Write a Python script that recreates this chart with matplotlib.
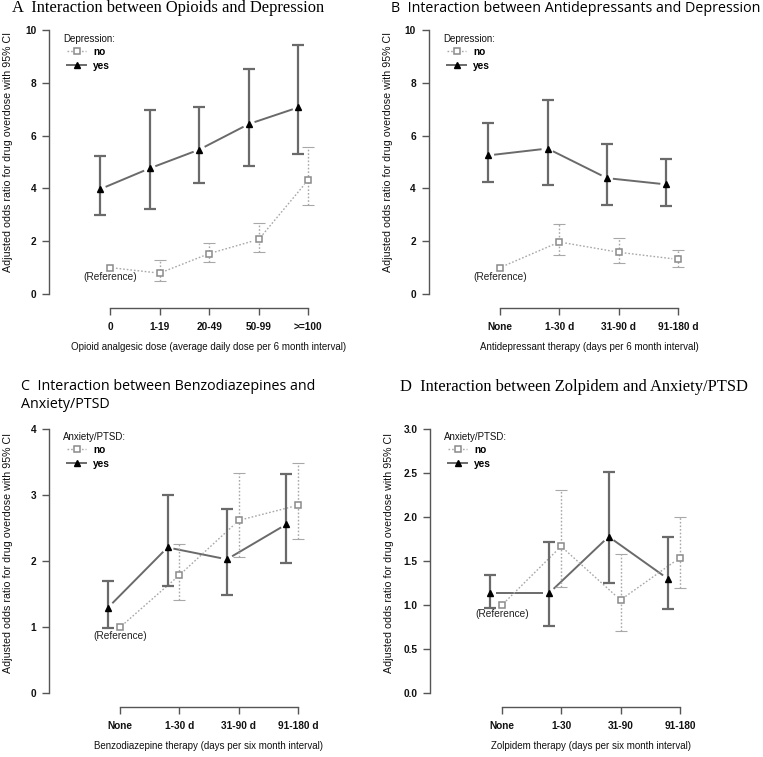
import numpy as np
import matplotlib
matplotlib.use("Agg")
import matplotlib.pyplot as plt
from matplotlib.lines import Line2D

W, H = 763, 757

# ---- data ----
A_cats = ['0', '1-19', '20-49', '50-99', '>=100']
A_yes = [3.97, 4.76, 5.47, 6.44, 7.07]
A_yes_lo = [2.99, 3.23, 4.22, 4.84, 5.30]
A_yes_hi = [5.23, 6.96, 7.09, 8.54, 9.42]
A_no = [1.0, 0.79, 1.53, 2.07, 4.33]
A_no_lo = [1.0, 0.50, 1.21, 1.59, 3.36]
A_no_hi = [1.0, 1.27, 1.92, 2.69, 5.56]

B_cats = ['None', '1-30 d', '31-90 d', '91-180 d']
B_yes = [5.25, 5.51, 4.39, 4.15]
B_yes_lo = [4.25, 4.13, 3.37, 3.35]
B_yes_hi = [6.47, 7.33, 5.69, 5.12]
B_no = [1.0, 1.97, 1.58, 1.31]
B_no_lo = [1.0, 1.47, 1.16, 1.02]
B_no_hi = [1.0, 2.65, 2.14, 1.67]

C_cats = ['None', '1-30 d', '31-90 d', '91-180 d']
C_yes = [1.30, 2.21, 2.03, 2.56]
C_yes_lo = [0.99, 1.62, 1.49, 1.97]
C_yes_hi = [1.70, 3.00, 2.79, 3.32]
C_no = [1.0, 1.79, 2.62, 2.85]
C_no_lo = [1.0, 1.41, 2.06, 2.34]
C_no_hi = [1.0, 2.26, 3.34, 3.49]

D_cats = ['None', '1-30', '31-90', '91-180']
D_yes = [1.14, 1.14, 1.78, 1.30]
D_yes_lo = [0.97, 0.76, 1.25, 0.96]
D_yes_hi = [1.35, 1.72, 2.52, 1.78]
D_no = [1.0, 1.67, 1.06, 1.54]
D_no_lo = [1.0, 1.21, 0.71, 1.20]
D_no_hi = [1.0, 2.31, 1.58, 2.00]

YES_COL = '#6a6a6a'
NO_COL = '#a8a8a8'
AX_COL = '#555555'
SANS = 'Liberation Sans'
SERIF = 'Liberation Serif'
DOT = (0, (1.2, 1.4))

fig = plt.figure(figsize=(W / 100, H / 100), dpi=100)


def fx(px):
    return px / W


def fy(py):
    return 1 - py / H


def gapped(ax, x, y, gap, **kw):
    # R type="b": line segments stop short of the points
    pts = ax.transData.transform(np.column_stack([x, y]))
    inv = ax.transData.inverted()
    for p, q in zip(pts[:-1], pts[1:]):
        d = q - p
        L = np.hypot(*d)
        if L <= 2 * gap:
            continue
        u = d / L
        seg = inv.transform([p + u * gap, q - u * gap])
        ax.plot(seg[:, 0], seg[:, 1], **kw)


def panel(box, cats, yes, ylo, yhi, no, nlo, nhi, yticks, yfmt,
          xlabel, legtitle, legpos, xlabpos, ylabpos):
    left, right, top, bottom, x0, dx = box
    ax = fig.add_axes([fx(left), fy(bottom), fx(right - left), (bottom - top) / H])
    n = len(cats)
    ax.set_xlim((left - x0) / dx, (right - x0) / dx)
    ax.set_ylim(yticks[0], yticks[-1])
    xs = np.arange(n)
    xy = xs - 0.2

    # connecting lines
    gapped(ax, xy, yes, 6, color=YES_COL, lw=1.4, solid_capstyle='butt')
    gapped(ax, xs, no, 6, color=NO_COL, lw=1.0, linestyle=DOT)

    # error bars
    yerr = [np.array(yes) - np.array(ylo), np.array(yhi) - np.array(yes)]
    ax.errorbar(xy, yes, yerr=yerr, fmt='none', ecolor=YES_COL, elinewidth=1.6,
                capsize=4, capthick=1.6, clip_on=False)
    ne = ax.errorbar(xs[1:], no[1:], yerr=[np.array(no[1:]) - np.array(nlo[1:]),
                                           np.array(nhi[1:]) - np.array(no[1:])],
                     fmt='none', ecolor=NO_COL, elinewidth=1.0, capsize=4,
                     capthick=1.0, clip_on=False)
    for c in ne.lines[2]:
        c.set_linestyle(DOT)
    for c in ne.lines[1]:
        c.set_markeredgewidth(0.8)

    ax.plot(xy, yes, linestyle='none', marker='^', color='black', ms=4.6, clip_on=False)
    ax.plot(xs, no, linestyle='none', marker='s', mfc='white', mec='#8a8a8a',
            mew=1.1, ms=5, clip_on=False)

    ax.annotate('(Reference)', xy=(0, no[0]), xytext=(0, -6.5), textcoords='offset points',
                ha='center', va='center', fontsize=7.3, family=SANS, color='#222222')

    # R-like axes
    for s in ['top', 'right']:
        ax.spines[s].set_visible(False)
    ax.spines['left'].set_bounds(yticks[0], yticks[-1])
    ax.spines['bottom'].set_position(('outward', 10))
    ax.spines['bottom'].set_bounds(0, n - 1)
    for s in ['left', 'bottom']:
        ax.spines[s].set_color(AX_COL)
        ax.spines[s].set_linewidth(1.0)
    ax.set_yticks(yticks)
    ax.set_yticklabels([yfmt % v for v in yticks])
    ax.set_xticks(xs)
    ax.set_xticklabels(cats)
    ax.tick_params(direction='out', length=5, width=1.0, color=AX_COL, pad=4,
                   labelsize=7.3)
    ax.tick_params(axis='x', pad=5)
    for t in ax.get_xticklabels() + ax.get_yticklabels():
        t.set_fontfamily(SANS)
        t.set_fontweight('bold')
        t.set_color('#111111')

    fig.text(fx(xlabpos[0]), fy(xlabpos[1]), xlabel, ha='center', va='center',
             fontsize=7, family=SANS, color='#111111')
    fig.text(fx(ylabpos[0]), fy(ylabpos[1]), 'Adjusted odds ratio for drug overdose with 95% CI',
             ha='center', va='center', rotation=90, fontsize=7.7, family=SANS,
             color='#111111')

    # legend: title on its own, entries slightly indented (as R draws it)
    fig.text(fx(legpos[0]), fy(legpos[1]), legtitle, ha='left', va='center',
             fontsize=7, family=SANS, color='#111111')
    handles = [Line2D([], [], color=NO_COL, lw=1.0, linestyle=DOT, marker='s',
                      mfc='white', mec='#8a8a8a', mew=1.1, ms=4.5),
               Line2D([], [], color=YES_COL, lw=1.4, marker='^', mfc='black',
                      mec='black', ms=4.5)]
    leg = ax.legend(handles, ['no', 'yes'], loc='upper left',
                    bbox_to_anchor=(fx(legpos[0] + 4), fy(legpos[1] + 8)),
                    bbox_transform=fig.transFigure, frameon=False,
                    prop={'family': SANS, 'size': 7.3},
                    borderpad=0, borderaxespad=0, handlelength=1.9,
                    handletextpad=0.7, labelspacing=0.35)
    for t in leg.get_texts():
        t.set_fontweight('bold')
    return ax


# panel A
panel((49, 330, 30, 294, 110, 49.6), A_cats, A_yes, A_yes_lo, A_yes_hi,
      A_no, A_no_lo, A_no_hi, list(range(0, 11, 2)), '%d',
      'Opioid analgesic dose (average daily dose per 6 month interval)',
      'Depression:', (63, 39), (209, 347), (8, 152))
# panel B
panel((428.5, 700, 30, 294, 500, 59.4), B_cats, B_yes, B_yes_lo, B_yes_hi,
      B_no, B_no_lo, B_no_hi, list(range(0, 11, 2)), '%d',
      'Antidepressant therapy (days per 6 month interval)',
      'Depression:', (443, 39), (589, 347), (388, 152))
# panel C
panel((48.5, 320, 429.3, 693.3, 120, 59.4), C_cats, C_yes, C_yes_lo, C_yes_hi,
      C_no, C_no_lo, C_no_hi, [0, 1, 2, 3, 4], '%d',
      'Benzodiazepine therapy (days per six month interval)',
      'Anxiety/PTSD:', (63, 437), (209, 746), (8, 553))
# panel D
panel((430, 700, 429.3, 693.3, 501.7, 59.4), D_cats, D_yes, D_yes_lo, D_yes_hi,
      D_no, D_no_lo, D_no_hi, [0.0, 0.5, 1.0, 1.5, 2.0, 2.5, 3.0], '%.1f',
      'Zolpidem therapy (days per six month interval)',
      'Anxiety/PTSD:', (444, 437), (591, 746), (389, 553))

# panel titles
fig.text(fx(12), fy(8), 'A  Interaction between Opioids and Depression',
         ha='left', va='center', fontsize=11.9, family=SERIF)
fig.text(fx(391), fy(8), 'B  Interaction between Antidepressants and Depression',
         ha='left', va='center', fontsize=10.3, family='Open Sans')
fig.text(fx(21), fy(387), 'C  Interaction between Benzodiazepines and',
         ha='left', va='center', fontsize=10.3, family='Open Sans')
fig.text(fx(21), fy(405), 'Anxiety/PTSD',
         ha='left', va='center', fontsize=10.3, family='Open Sans')
fig.text(fx(400), fy(387), 'D  Interaction between Zolpidem and Anxiety/PTSD',
         ha='left', va='center', fontsize=11.9, family=SERIF)

fig.savefig('out.png', dpi=100)
